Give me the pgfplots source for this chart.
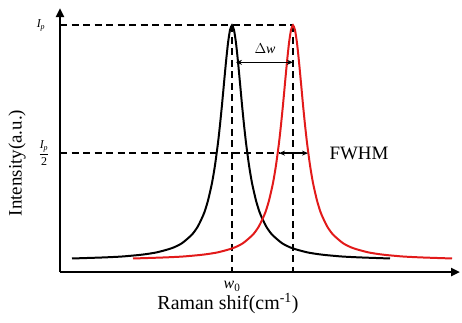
\documentclass[border=0pt]{standalone}
\usepackage{amsmath}
\usepackage{pgfplots}
\pgfplotsset{compat=1.18}
\usepackage{fontspec}
\setmainfont{Liberation Serif}
\usetikzlibrary{arrows.meta}
\definecolor{peakred}{RGB}{226,26,26}
\begin{document}
\begin{tikzpicture}
\begin{axis}[
  scale only axis,
  width=400bp, height=264bp,
  xmin=60, xmax=460, ymin=0, ymax=1.07,
  axis lines=left,
  axis line style={line width=2.2pt, -{Triangle[length=9bp,width=8bp]}},
  xtick=\empty, ytick=\empty,
  clip=false,
]
\coordinate (bbl) at (axis cs:0,-0.2027);
\coordinate (btr) at (axis cs:462,1.1026);
% dashed guides
\addplot[black, line width=2pt, dash pattern=on 7bp off 4.5bp] coordinates {(60,1.0) (293,1.0)};
\addplot[black, line width=2pt, dash pattern=on 7bp off 4.5bp] coordinates {(60,0.482) (280,0.482)};
\addplot[black, line width=2pt, dash pattern=on 7bp off 4.5bp] coordinates {(232,1.0) (232,0)};
\addplot[black, line width=2pt, dash pattern=on 7bp off 4.5bp] coordinates {(293,1.0) (293,0)};
% black peak
\addplot[black, line width=2pt, smooth, tension=0.4] coordinates {
(72,0.055) (102,0.059) (122,0.063) (142,0.0705) (157,0.080) (172,0.097) (182,0.117) (192,0.152) (198,0.186) (204,0.238) (208,0.290) (212,0.361) (215,0.433) (218,0.524) (220,0.597) (222,0.678) (224,0.766) (226,0.852) (228,0.928) (230,0.981) (232,1.000) (234,0.981) (236,0.928) (238,0.852) (240,0.766) (242,0.678) (244,0.597) (246,0.524) (249,0.433) (252,0.361) (256,0.290) (260,0.238) (266,0.186) (272,0.152) (282,0.117) (292,0.097) (307,0.080) (322,0.0705) (342,0.063) (362,0.059) (390,0.055)};
% red peak
\addplot[peakred, line width=2pt, smooth, tension=0.4] coordinates {
(133,0.055) (163,0.059) (183,0.063) (203,0.0705) (218,0.080) (233,0.097) (243,0.117) (253,0.152) (259,0.186) (265,0.238) (269,0.290) (273,0.361) (276,0.433) (279,0.524) (281,0.597) (283,0.678) (285,0.766) (287,0.852) (289,0.928) (291,0.981) (293,1.000) (295,0.981) (297,0.928) (299,0.852) (301,0.766) (303,0.678) (305,0.597) (307,0.524) (310,0.433) (313,0.361) (317,0.290) (321,0.238) (327,0.186) (333,0.152) (343,0.117) (353,0.097) (368,0.080) (383,0.0705) (403,0.063) (423,0.059) (452,0.055)};
% arrows
\draw[line width=1.4pt, {Stealth[length=6bp,width=5bp]}-{Stealth[length=6bp,width=5bp]}] (axis cs:236,0.85) -- (axis cs:293,0.85);
\draw[line width=1.4pt, {Stealth[length=6bp,width=5bp]}-{Stealth[length=6bp,width=5bp]}] (axis cs:279,0.482) -- (axis cs:308,0.482);
% labels
\node[font=\fontsize{14}{16}\selectfont] at (axis cs:265,0.905) {$\Delta\textit{w}$};
\node[font=\fontsize{19}{22}\selectfont, anchor=west] at (axis cs:326,0.482) {FWHM};
\node[font=\fontsize{12}{14}\selectfont] at (axis cs:41,1.0) {$\textit{I}_{\textit{p}}$};
\node[font=\fontsize{12}{14}\selectfont] at (axis cs:44,0.482) {$\dfrac{\textit{I}_{\textit{p}}}{\text{2}}$};
\node[font=\fontsize{16}{18}\selectfont] at (axis cs:232,-0.057) {$\textit{w}_{\text{0}}$};
\node[font=\fontsize{20}{23}\selectfont] at (axis cs:228,-0.128) {Raman shif(cm\textsuperscript{-1})};
\node[font=\fontsize{19}{22}\selectfont, rotate=90] at (axis cs:17,0.442) {Intensity(a.u.)};
\end{axis}
\pgfresetboundingbox
\path[use as bounding box] (bbl) rectangle (btr);
\end{tikzpicture}
\end{document}
